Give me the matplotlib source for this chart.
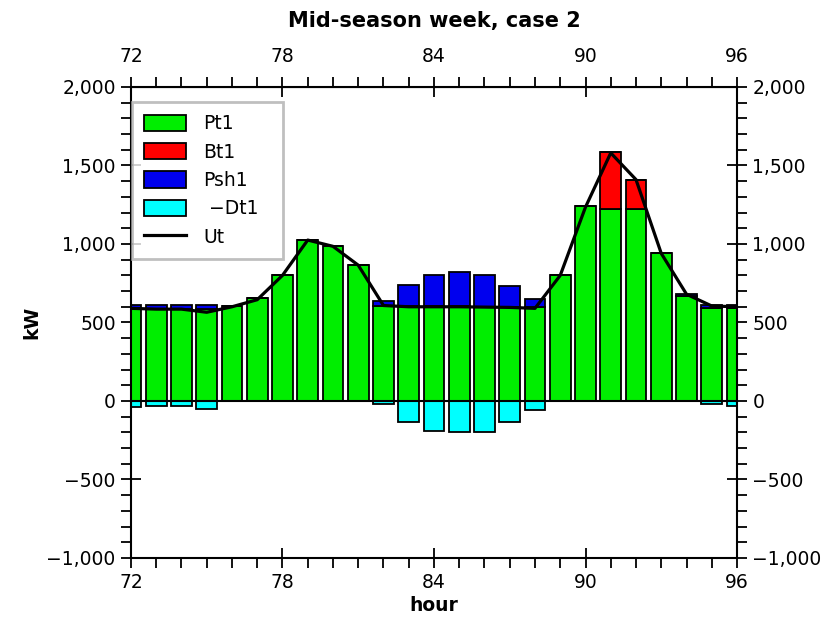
import numpy as np
import matplotlib.pyplot as plt
from matplotlib.ticker import MultipleLocator, FixedLocator, FuncFormatter

# hourly dispatch, mid-season week case 2 (hours 72-96)
hours = np.arange(72, 97)
pt1 = [585, 585, 585, 585, 605, 655, 805, 1025, 985, 865, 605, 605, 605,
       605, 600, 600, 600, 805, 1240, 1225, 1225, 945, 670, 595, 595]
bt1 = [0, 0, 0, 0, 0, 0, 0, 0, 0, 0, 0, 0, 0,
       0, 0, 0, 0, 0, 0, 360, 185, 0, 0, 0, 0]
psh1 = [25, 25, 25, 25, 0, 0, 0, 0, 0, 0, 30, 135, 200,
        215, 205, 135, 50, 0, 0, 0, 0, 0, 10, 15, 15]
dt1 = [40, 30, 30, 50, 0, 0, 0, 0, 0, 0, 20, 133, 190,
       200, 200, 135, 60, 0, 0, 0, 0, 0, 0, 20, 30]
ut = [590, 585, 585, 565, 600, 645, 800, 1025, 985, 865, 608, 600, 600,
      600, 598, 596, 590, 800, 1235, 1580, 1410, 940, 680, 605, 600]
hour_ticks = [72, 78, 84, 90, 96]

pt1 = np.array(pt1)
bt1 = np.array(bt1)
psh1 = np.array(psh1)
dt1 = np.array(dt1)

plt.rcParams['font.family'] = ['DejaVu Sans']
fig = plt.figure(figsize=(8.31, 6.28), dpi=100)
ax = fig.add_axes([0.1576, 0.1115, 0.7293, 0.75])

w = 0.82
kw = dict(width=w, edgecolor='black', linewidth=1.3, zorder=2)
h_pt = ax.bar(hours, pt1, color='#00ee00', **kw)
h_bt = ax.bar(hours, bt1, bottom=pt1, color='#ff0000', **kw)
h_psh = ax.bar(hours, psh1, bottom=pt1 + bt1, color='#0000ee', **kw)
h_dt = ax.bar(hours, -dt1, color='#00ffff', **kw)
ax.axhline(0, color='black', lw=1.5, zorder=3)
h_ut, = ax.plot(hours, ut, color='black', lw=2.3, zorder=4)

ax.set_xlim(72, 96)
ax.set_ylim(-1000, 2000)
ax.xaxis.set_major_locator(FixedLocator(hour_ticks))
ax.xaxis.set_minor_locator(FixedLocator(hours))
ax.yaxis.set_major_locator(MultipleLocator(500))
ax.yaxis.set_minor_locator(MultipleLocator(100))
ax.yaxis.set_major_formatter(FuncFormatter(lambda v, p: f'{int(v):,}'.replace('-', '\u2212')))

ax.tick_params(which='both', right=True, labelright=True, labelsize=13.5, width=1.3)
ax.tick_params(which='major', direction='inout', length=14, pad=4)
ax.tick_params(which='minor', direction='out', length=7)
for s in ax.spines.values():
    s.set_linewidth(1.5)

# top hour axis
top = ax.secondary_xaxis('top')
top.xaxis.set_major_locator(FixedLocator(hour_ticks))
top.xaxis.set_minor_locator(FixedLocator(hours))
top.tick_params(which='both', labelsize=13.5, width=1.3)
top.tick_params(which='major', direction='inout', length=14, pad=8)
top.tick_params(which='minor', direction='out', length=7)

ax.set_xlabel('hour', fontsize=13.5, fontweight='bold', labelpad=3)
ax.set_ylabel('kW', fontsize=13.5, fontweight='bold', labelpad=4)
ax.set_title('Mid-season week, case 2', fontsize=15, fontweight='bold', pad=43)

leg = ax.legend([h_pt, h_bt, h_psh, h_dt, h_ut],
                ['Pt1', 'Bt1', 'Psh1', ' \u2212Dt1  ', 'Ut'],
                loc='upper left', bbox_to_anchor=(0.002, 0.968), borderaxespad=0,
                fontsize=13.5, fancybox=False, handlelength=2.2, handleheight=0.95,
                labelspacing=0.5, handletextpad=0.95, borderpad=0.65)
leg.get_frame().set_edgecolor('#b0b0b0')
leg.get_frame().set_linewidth(2)

fig.savefig('out.png', dpi=100)
